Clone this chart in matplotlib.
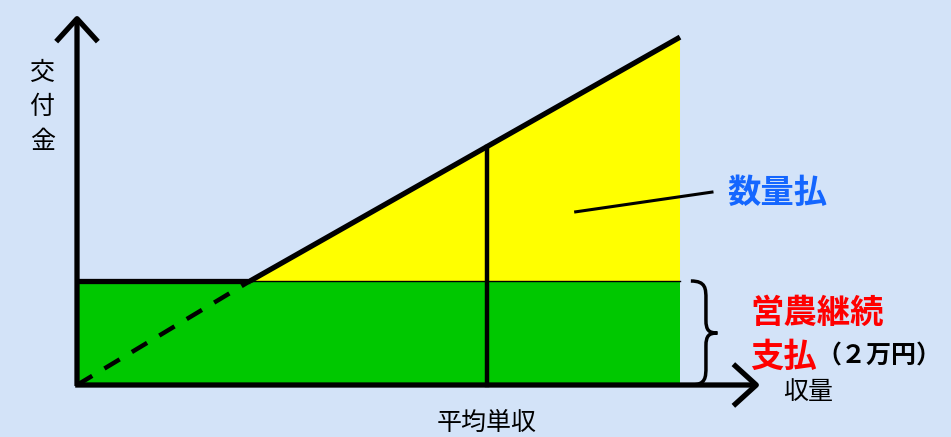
import matplotlib
matplotlib.use("Agg")
import matplotlib.pyplot as plt
from matplotlib.patches import Polygon, FancyArrowPatch, PathPatch
from matplotlib.path import Path

plt.rcParams['font.family'] = ['Noto Sans CJK JP', 'DejaVu Sans']

# --- data (conceptual units) ---
base_payment = 2.0          # 営農継続支払 (2万円)
max_yield = 10.0            # right edge of shaded area
breakeven_yield = 2.87      # where 数量払 line meets base payment
avg_yield = 6.8             # 平均単収
top_payment = 6.69          # payment at max yield
line_x = [breakeven_yield, max_yield]
line_y = [base_payment, top_payment]
dash_x = [0.0, breakeven_yield]
dash_y = [0.0, base_payment]

bg = '#D3E3F8'
green = '#00C800'
yellow = '#FFFF00'

fig = plt.figure(figsize=(9.51, 4.37), dpi=100)
fig.patch.set_facecolor(bg)
ax = fig.add_axes([0, 0, 1, 1])
ax.set_facecolor(bg)
ax.set_xlim(-1.277, 14.494)
ax.set_ylim(-1.0, 7.404)
ax.axis('off')

# green base area
ax.fill_between([0, max_yield], 0, base_payment, color=green, lw=0, zorder=1)
# yellow triangle
ax.add_patch(Polygon([(line_x[0], line_y[0]), (line_x[1], line_y[1]), (max_yield, base_payment)],
                     closed=True, color=yellow, lw=0, zorder=1))

# lines
ax.plot([0, breakeven_yield], [base_payment, base_payment], color='black', lw=3.8,
        solid_capstyle='butt', zorder=3)
ax.plot([breakeven_yield, max_yield], [base_payment, base_payment], color='black', lw=1.0, zorder=3)
ax.plot(line_x, line_y, color='black', lw=3.8, solid_capstyle='butt', zorder=4)
ax.plot(dash_x, dash_y, color='black', lw=3.2, dashes=(4, 3.2), zorder=4)
slope = (line_y[1] - line_y[0]) / (line_x[1] - line_x[0])
avg_top = line_y[0] + slope * (avg_yield - line_x[0])
ax.plot([avg_yield, avg_yield], [0, avg_top], color='black', lw=3.2, zorder=3)

# axes arrows
arrow_kw = dict(arrowstyle='->,head_length=0.55,head_width=0.5', mutation_scale=30,
                color='black', lw=3.8, zorder=5, capstyle='butt')
ax.add_patch(FancyArrowPatch((0, -0.02), (0, 7.12), shrinkA=0, shrinkB=0, **arrow_kw))
ax.add_patch(FancyArrowPatch((-0.03, 0), (11.33, 0), shrinkA=0, shrinkB=0, **arrow_kw))

# curly brace
bx0, bx1 = 10.18, 10.62
ym = base_payment / 2
verts = [
    (bx0, base_payment), (bx0 + 0.25, base_payment), (bx0 + 0.25, base_payment - 0.15), (bx0 + 0.25, base_payment - 0.35),
    (bx0 + 0.25, ym + 0.25),
    (bx0 + 0.25, ym + 0.05), (bx0 + 0.3, ym), (bx1, ym),
    (bx0 + 0.3, ym), (bx0 + 0.25, ym - 0.05), (bx0 + 0.25, ym - 0.25),
    (bx0 + 0.25, 0.35),
    (bx0 + 0.25, 0.15), (bx0 + 0.25, 0.0), (bx0, 0.0),
]
codes = [Path.MOVETO, Path.CURVE4, Path.CURVE4, Path.CURVE4,
         Path.LINETO,
         Path.CURVE4, Path.CURVE4, Path.CURVE4,
         Path.CURVE4, Path.CURVE4, Path.CURVE4,
         Path.LINETO,
         Path.CURVE4, Path.CURVE4, Path.CURVE4]
ax.add_patch(PathPatch(Path(verts, codes), fill=False, lw=2.5, color='black', zorder=5))

# leader line for 数量払
ax.plot([8.27, 10.53], [3.33, 3.71], color='black', lw=2.2, zorder=5)

# texts
for i, ch in enumerate('交付金'):
    ax.text(-0.58, 6.0 - i * 0.66, ch, fontsize=18, ha='center', va='center', color='black')
ax.text(12.13, -0.13, '収量', fontsize=18, ha='center', va='center', color='black')
ax.text(avg_yield, -0.73, '平均単収', fontsize=18, ha='center', va='center', color='black')
ax.text(10.78, 3.69, '数量払', fontsize=24, fontweight='bold', ha='left', va='center', color='#1466FF')
ax.text(11.16, 1.385, '営農継続', fontsize=24, fontweight='bold', ha='left', va='center', color='#FF0000')
t = ax.text(11.16, 0.54, '支払', fontsize=24, fontweight='bold', ha='left', va='center', color='#FF0000')
ax.annotate('（２万円）', xycoords=t, xy=(1.0, 0.5), xytext=(0, 0), textcoords='offset points',
            fontsize=18, fontweight='bold', ha='left', va='center', color='black')

fig.savefig('out.png', dpi=100, facecolor=bg)
